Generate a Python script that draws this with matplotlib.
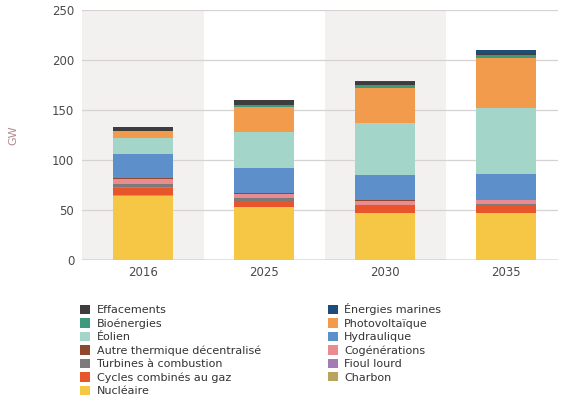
import numpy as np
import matplotlib
matplotlib.use('Agg')
import matplotlib.pyplot as plt
from matplotlib.patches import Patch

years = ['2016', '2025', '2030', '2035']

# capacités installées (GW)
nucleaire = [64, 53.5, 47.5, 47.5]
charbon = [1, 0, 0, 0]
ccg = [7, 6, 6.5, 7.5]
fioul = [1.5, 0, 0, 0]
tac = [2.5, 3, 1.5, 1.5]
cogen = [4.5, 3.5, 3.5, 3.3]
autre_thermique = [1.5, 1.5, 1.5, 0.5]
hydraulique = [24, 24, 24.5, 26]
eolien = [15.5, 36, 52, 66]
photovoltaique = [7, 25, 35, 50]
bioenergies = [0.5, 2, 2.5, 2.5]
effacements = [3.5, 5.5, 3, 1.5]
marines = [0, 0, 1.5, 4]

# ordre d'empilement (bas -> haut)
stack = [
    ('Nucléaire', nucleaire, '#f6c744'),
    ('Charbon', charbon, '#b9a35f'),
    ('Cycles combinés au gaz', ccg, '#e8552a'),
    ('Fioul lourd', fioul, '#a47cb5'),
    ('Turbines à combustion', tac, '#7d7a7c'),
    ('Cogénérations', cogen, '#e98b90'),
    ('Autre thermique décentralisé', autre_thermique, '#8e4a2c'),
    ('Hydraulique', hydraulique, '#5d8fcb'),
    ('Éolien', eolien, '#a3d6c9'),
    ('Photovoltaïque', photovoltaique, '#f39b4c'),
    ('Bioénergies', bioenergies, '#3e9a7c'),
    ('Effacements', effacements, '#3f3c3e'),
    ('Énergies marines', marines, '#1e4b78'),
]
colors = {name: c for name, _, c in stack}

fig = plt.figure(figsize=(5.61, 3.97), dpi=100)
ax = fig.add_axes([0.147, 0.345, 0.848, 0.63])

x = np.arange(len(years))
# bandes de fond alternées
for i in x[::2]:
    ax.axvspan(i - 0.5, i + 0.5, color='#f3f0f0', zorder=0, lw=0)

bottom = np.zeros(len(years))
for name, vals, c in stack:
    ax.bar(x, vals, bottom=bottom, width=0.5, color=c, zorder=3, linewidth=0)
    bottom += np.array(vals)

ax.set_ylim(0, 250)
ax.set_xlim(-0.5, 3.43)
ax.set_yticks([0, 50, 100, 150, 200, 250])
ax.set_xticks(x)
ax.set_xticklabels(years)
ax.grid(axis='y', color='#d6d2d2', linewidth=0.9, zorder=1)
ax.axhline(0, color='#8a8888', linewidth=1, zorder=2)
for s in ax.spines.values():
    s.set_visible(False)
ax.tick_params(length=0, labelsize=8.5, colors='#4a4a4a', pad=6)
ax.tick_params(axis='x', pad=4)
ax.set_ylabel('GW', fontsize=8, color='#b08a90', labelpad=24)

legend_order = ['Effacements', 'Bioénergies', 'Éolien', 'Autre thermique décentralisé',
                'Turbines à combustion', 'Cycles combinés au gaz', 'Nucléaire',
                'Énergies marines', 'Photovoltaïque', 'Hydraulique', 'Cogénérations',
                'Fioul lourd', 'Charbon']
handles = [Patch(facecolor=colors[n], edgecolor='none', label=n) for n in legend_order]
fig.legend(handles=handles, loc='upper left', bbox_to_anchor=(0.135, 0.247), ncol=2,
           frameon=False, fontsize=8, labelspacing=0.27, handlelength=0.9, handleheight=0.9,
           handletextpad=0.6, columnspacing=6.0, labelcolor='#333333', borderaxespad=0)

fig.savefig('out.png', dpi=100)
